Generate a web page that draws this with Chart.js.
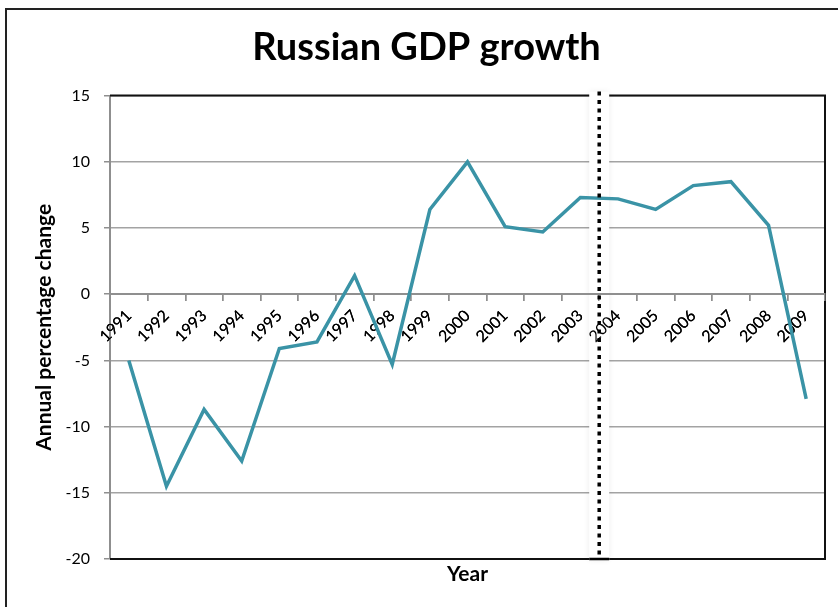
<!DOCTYPE html>
<html>
<head>
<meta charset="utf-8">
<title>Russian GDP growth</title>
<script src="https://cdn.jsdelivr.net/npm/chart.js@4/dist/chart.umd.min.js"></script>
<style>
  html, body { margin: 0; padding: 0; background: #fff; }
  canvas { display: block; }
</style>
</head>
<body>
<canvas id="gdpChart" width="838" height="607"></canvas>
<script>
// Annual real GDP growth, Russia
const years = ['1991', '1992', '1993', '1994', '1995', '1996', '1997', '1998', '1999', '2000',
               '2001', '2002', '2003', '2004', '2005', '2006', '2007', '2008', '2009'];
const growth = [-5.0, -14.5, -8.7, -12.6, -4.1, -3.6, 1.4, -5.3, 6.4, 10.0,
                5.1, 4.7, 7.3, 7.2, 6.4, 8.2, 8.5, 5.2, -7.9];
const yTicks = [-20, -15, -10, -5, 0, 5, 10, 15];

// marker sits between these two years
const splitAfter = '2003';
const splitBefore = '2004';

const FONT = "'Lato', 'DejaVu Sans', sans-serif";
const AXIS_GREY = '#8f8f8f';

function splitPixel(x) {
    return (x.getPixelForValue(years.indexOf(splitAfter)) + x.getPixelForValue(years.indexOf(splitBefore))) / 2;
}

// outer frame of the figure
const pageFrame = {
    id: 'pageFrame',
    beforeDraw(chart) {
        const ctx = chart.ctx;
        ctx.save();
        ctx.fillStyle = '#fff';
        ctx.fillRect(0, 0, chart.width, chart.height);
        ctx.strokeStyle = '#222';
        ctx.lineWidth = 2;
        ctx.beginPath();
        ctx.moveTo(6, chart.height);
        ctx.lineTo(6, 9);
        ctx.lineTo(chart.width, 9);
        ctx.stroke();
        ctx.restore();
    }
};

// black border round the plot area plus the white band behind the marker
const plotFrame = {
    id: 'plotFrame',
    beforeDatasetsDraw(chart) {
        const {ctx, chartArea: a, scales: {x}} = chart;
        ctx.save();
        ctx.strokeStyle = '#111';
        ctx.lineWidth = 2;
        ctx.beginPath();
        ctx.moveTo(a.left, a.top);
        ctx.lineTo(a.right, a.top);
        ctx.lineTo(a.right, a.bottom);
        ctx.lineTo(a.left, a.bottom);
        ctx.stroke();

        const mx = splitPixel(x);
        ctx.shadowColor = 'rgba(0,0,0,0.08)';
        ctx.shadowBlur = 6;
        ctx.fillStyle = '#fff';
        ctx.fillRect(mx - 10, a.top - 4, 20, a.bottom - a.top + 5);
        ctx.restore();
        // year labels and zero axis stay visible over the band
        x.draw(a);
    },
    afterDatasetsDraw(chart) {
        const {ctx, chartArea: a, scales: {x}} = chart;
        const mx = splitPixel(x);
        ctx.save();
        ctx.strokeStyle = '#000';
        ctx.lineWidth = 3.5;
        ctx.setLineDash([4, 4.5]);
        ctx.beginPath();
        ctx.moveTo(mx, a.top - 4);
        ctx.lineTo(mx, a.bottom);
        ctx.stroke();
        ctx.setLineDash([]);
        ctx.lineWidth = 2.5;
        ctx.beginPath();
        ctx.moveTo(mx - 10, a.bottom);
        ctx.lineTo(mx + 10, a.bottom);
        ctx.stroke();
        ctx.restore();
    }
};

new Chart(document.getElementById('gdpChart'), {
    type: 'line',
    data: {
        labels: years,
        datasets: [{
            label: 'GDP growth',
            data: growth,
            borderColor: '#3a93a6',
            borderWidth: 3.5,
            pointRadius: 0,
            tension: 0,
            fill: false
        }]
    },
    options: {
        responsive: false,
        animation: false,
        layout: { padding: { left: 28, right: 13, top: 0, bottom: 20 } },
        plugins: {
            legend: { display: false },
            tooltip: { enabled: false },
            title: {
                display: true,
                text: 'Russian GDP growth',
                color: '#000',
                font: { family: FONT, size: 38, weight: 'bold' },
                padding: { top: 25, bottom: 25 }
            }
        },
        scales: {
            x: {
                type: 'category',
                position: { y: 0 },
                offset: true,
                grid: {
                    offset: true,
                    drawOnChartArea: false,
                    drawTicks: true,
                    tickLength: 6,
                    color: AXIS_GREY,
                    lineWidth: 1.5
                },
                border: { color: AXIS_GREY, width: 2 },
                ticks: {
                    autoSkip: false,
                    minRotation: 45,
                    maxRotation: 45,
                    padding: 6,
                    color: '#000',
                    font: { family: FONT, size: 16 }
                }
            },
            xTitle: {
                type: 'category',
                axis: 'x',
                position: 'bottom',
                offset: true,
                afterFit(scale) { scale.height = 28; },
                grid: { display: false },
                border: { display: false },
                ticks: { display: false },
                title: {
                    display: true,
                    text: 'Year',
                    color: '#000',
                    font: { family: FONT, size: 21, weight: 'bold' },
                    padding: { top: 3, bottom: 0 }
                }
            },
            y: {
                min: -20,
                max: 15,
                afterFit(scale) { scale.width = 82; },
                afterBuildTicks(scale) { scale.ticks = yTicks.map(v => ({ value: v })); },
                grid: {
                    color: '#a3a3a3',
                    lineWidth: 1.5,
                    drawTicks: true,
                    tickLength: 6,
                    tickColor: AXIS_GREY
                },
                border: { color: AXIS_GREY, width: 2 },
                ticks: {
                    padding: 14,
                    color: '#000',
                    font: { family: FONT, size: 16 }
                },
                title: {
                    display: true,
                    text: 'Annual percentage change',
                    color: '#000',
                    font: { family: FONT, size: 21, weight: 'bold' },
                    padding: { top: 4, bottom: 0 }
                }
            }
        }
    },
    plugins: [pageFrame, plotFrame]
});
</script>
</body>
</html>
